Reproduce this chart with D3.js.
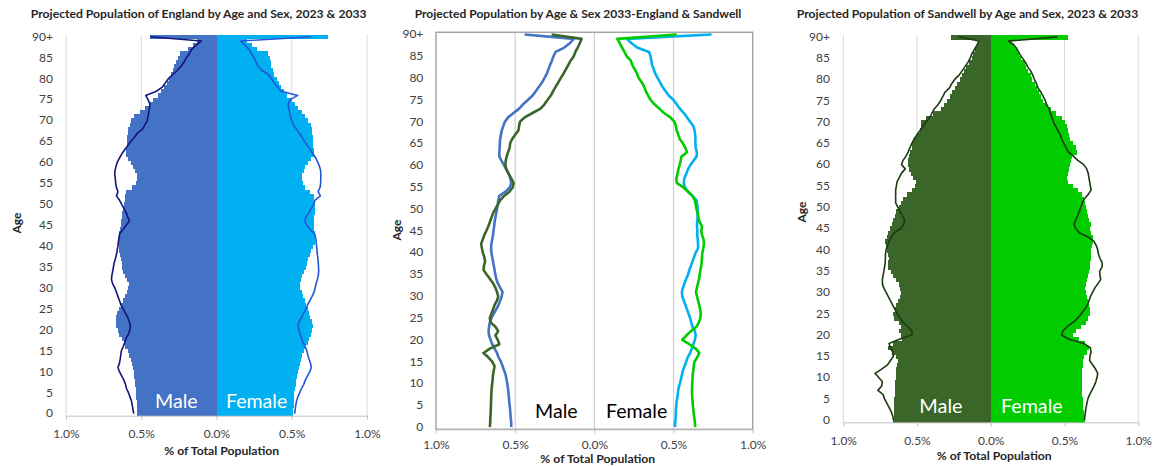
<!DOCTYPE html>
<html><head><meta charset="utf-8">
<script src="https://cdn.jsdelivr.net/npm/d3@7"></script>
<style>html,body{margin:0;padding:0;background:#fff;} svg{display:block;}</style>
</head><body>
<svg id="chart" width="1153" height="466"></svg>
<script>
// ---------- DATA ----------
const ages = d3.range(0, 91);                       // 0 .. 90 (90 = "90+")
const ageTicks = ages.filter(a => a % 5 === 0);
const ageTickLabel = a => (a === 90 ? "90+" : String(a));
const xTickValues = [-1, -0.5, 0, 0.5, 1];
const xTickLabel = v => Math.abs(v).toFixed(1) + "%";
const titles = [
  "Projected Population of England by Age and Sex, 2023 & 2033",
  "Projected Population by Age & Sex 2033-England & Sandwell",
  "Projected Population of Sandwell by Age and Sex, 2023 & 2033"
];
const axisTitleX = "% of Total Population";
const axisTitleY = "Age";
const sexLabels = ["Male", "Female"];

// England 2033 (% of total population), ages 0..90+
const engMale2033 = [0.525,0.525,0.528,0.53,0.532,0.535,0.538,0.54,0.543,0.546,
  0.55,0.555,0.56,0.57,0.58,0.59,0.605,0.615,0.63,0.645,
  0.655,0.665,0.668,0.665,0.66,0.65,0.635,0.62,0.605,0.595,
  0.585,0.58,0.595,0.61,0.62,0.625,0.63,0.635,0.64,0.645,
  0.65,0.652,0.65,0.645,0.64,0.637,0.633,0.63,0.625,0.62,
  0.615,0.61,0.607,0.6,0.56,0.533,0.525,0.53,0.54,0.555,
  0.57,0.585,0.6,0.6,0.598,0.597,0.595,0.59,0.585,0.575,
  0.565,0.545,0.51,0.475,0.45,0.42,0.39,0.37,0.35,0.33,
  0.315,0.3,0.29,0.28,0.268,0.258,0.245,0.19,0.155,0.13,0.44];
const engFemale2033 = [0.51,0.51,0.513,0.515,0.515,0.518,0.52,0.525,0.528,0.532,
  0.54,0.547,0.553,0.56,0.57,0.58,0.59,0.605,0.615,0.625,
  0.635,0.64,0.635,0.62,0.612,0.605,0.595,0.585,0.575,0.565,
  0.555,0.553,0.56,0.57,0.58,0.592,0.6,0.61,0.62,0.63,
  0.64,0.655,0.655,0.653,0.65,0.65,0.648,0.65,0.652,0.653,
  0.652,0.65,0.645,0.62,0.59,0.572,0.565,0.568,0.58,0.59,
  0.605,0.625,0.645,0.648,0.64,0.638,0.638,0.637,0.633,0.625,
  0.605,0.585,0.565,0.54,0.52,0.5,0.47,0.45,0.43,0.415,
  0.4,0.385,0.375,0.365,0.36,0.355,0.345,0.27,0.235,0.205,0.74];
// Sandwell 2033
const sandMale2033 = [0.66,0.658,0.657,0.655,0.654,0.653,0.652,0.651,0.65,0.648,
  0.645,0.642,0.64,0.635,0.63,0.645,0.67,0.7,0.66,0.6,
  0.61,0.625,0.607,0.625,0.655,0.66,0.65,0.64,0.63,0.615,
  0.607,0.615,0.625,0.64,0.66,0.68,0.7,0.697,0.69,0.695,
  0.704,0.71,0.715,0.705,0.695,0.682,0.67,0.66,0.65,0.64,
  0.625,0.61,0.595,0.57,0.535,0.515,0.51,0.525,0.54,0.555,
  0.562,0.56,0.554,0.545,0.535,0.532,0.52,0.5,0.48,0.475,
  0.47,0.44,0.39,0.34,0.315,0.296,0.275,0.26,0.245,0.228,
  0.212,0.195,0.18,0.165,0.15,0.13,0.12,0.105,0.092,0.08,0.27];
const sandFemale2033 = [0.637,0.635,0.632,0.628,0.625,0.622,0.62,0.618,0.617,0.617,
  0.618,0.62,0.621,0.625,0.628,0.632,0.65,0.663,0.64,0.6,
  0.555,0.58,0.61,0.645,0.66,0.67,0.672,0.668,0.662,0.655,
  0.648,0.642,0.648,0.655,0.662,0.665,0.67,0.675,0.678,0.68,
  0.682,0.688,0.692,0.69,0.68,0.675,0.68,0.665,0.658,0.652,
  0.645,0.64,0.635,0.62,0.59,0.56,0.52,0.518,0.525,0.53,
  0.538,0.545,0.55,0.585,0.575,0.56,0.54,0.53,0.52,0.515,
  0.505,0.48,0.44,0.41,0.38,0.355,0.34,0.325,0.315,0.3,
  0.28,0.27,0.255,0.24,0.23,0.205,0.19,0.175,0.16,0.145,0.52];
// England 2023
const engMale2023 = [0.55,0.555,0.56,0.565,0.575,0.585,0.598,0.605,0.615,0.63,
  0.645,0.655,0.645,0.64,0.636,0.632,0.62,0.61,0.6,0.585,
  0.575,0.572,0.58,0.59,0.605,0.62,0.635,0.645,0.655,0.665,
  0.675,0.69,0.698,0.695,0.69,0.685,0.68,0.672,0.665,0.66,
  0.655,0.652,0.648,0.643,0.62,0.6,0.578,0.59,0.6,0.615,
  0.63,0.645,0.665,0.655,0.665,0.67,0.672,0.676,0.675,0.668,
  0.66,0.645,0.63,0.61,0.59,0.57,0.545,0.525,0.49,0.475,
  0.46,0.455,0.45,0.445,0.443,0.455,0.47,0.4,0.36,0.34,
  0.32,0.29,0.26,0.235,0.215,0.2,0.18,0.165,0.135,0.1,0.44];
const engFemale2023 = [0.52,0.523,0.527,0.532,0.54,0.553,0.565,0.58,0.59,0.605,
  0.62,0.63,0.625,0.615,0.607,0.6,0.59,0.575,0.565,0.555,
  0.548,0.542,0.55,0.565,0.58,0.595,0.605,0.62,0.635,0.648,
  0.655,0.662,0.67,0.676,0.679,0.678,0.676,0.674,0.67,0.668,
  0.665,0.662,0.658,0.652,0.62,0.6,0.586,0.595,0.615,0.63,
  0.645,0.655,0.69,0.675,0.688,0.692,0.693,0.693,0.692,0.685,
  0.673,0.66,0.642,0.625,0.605,0.585,0.568,0.55,0.53,0.51,
  0.5,0.49,0.485,0.48,0.476,0.49,0.54,0.43,0.405,0.385,
  0.365,0.345,0.3,0.275,0.262,0.25,0.232,0.215,0.19,0.16,0.63];
// Sandwell 2023
const sandMale2023 = [0.66,0.665,0.675,0.69,0.705,0.72,0.73,0.765,0.74,0.735,
  0.76,0.785,0.74,0.7,0.68,0.66,0.665,0.68,0.69,0.62,
  0.535,0.535,0.565,0.595,0.615,0.635,0.65,0.665,0.68,0.695,
  0.71,0.725,0.735,0.735,0.73,0.725,0.72,0.716,0.715,0.714,
  0.71,0.7,0.69,0.675,0.655,0.61,0.59,0.585,0.6,0.615,
  0.63,0.645,0.645,0.645,0.645,0.64,0.635,0.62,0.605,0.58,
  0.605,0.595,0.575,0.56,0.548,0.535,0.52,0.5,0.48,0.46,
  0.44,0.415,0.4,0.385,0.36,0.34,0.325,0.31,0.28,0.265,
  0.245,0.215,0.195,0.175,0.155,0.14,0.128,0.112,0.095,0.08,0.22];
const sandFemale2023 = [0.635,0.638,0.642,0.646,0.652,0.658,0.67,0.685,0.7,0.712,
  0.72,0.725,0.71,0.69,0.67,0.672,0.68,0.675,0.63,0.53,
  0.48,0.49,0.52,0.56,0.59,0.613,0.635,0.655,0.665,0.675,
  0.69,0.705,0.725,0.745,0.74,0.738,0.755,0.755,0.74,0.73,
  0.725,0.715,0.7,0.66,0.6,0.575,0.565,0.575,0.588,0.6,
  0.61,0.62,0.635,0.66,0.68,0.675,0.67,0.665,0.66,0.65,
  0.63,0.59,0.56,0.525,0.51,0.495,0.48,0.47,0.455,0.44,
  0.425,0.415,0.405,0.395,0.38,0.37,0.355,0.34,0.32,0.31,
  0.295,0.285,0.27,0.25,0.235,0.215,0.195,0.18,0.16,0.12,0.45];

// ---------- DRAWING ----------
const FONT = "Lato, 'Open Sans', 'DejaVu Sans', sans-serif";
const svg = d3.select("#chart");

function fitWidth(sel, w) {
  const L = sel.node().getComputedTextLength();
  const fs = parseFloat(sel.attr("font-size"));
  if (L > 0) sel.attr("font-size", (fs * w / L).toFixed(2));
  return sel;
}

function commonAxes(g, cfg, x, y) {
  const ya = d3.axisLeft(y).tickValues(ageTicks).tickFormat(ageTickLabel).tickSize(0).tickPadding(cfg.yPad);
  const yg = g.append("g").attr("transform", `translate(${cfg.left},0)`).call(ya);
  yg.select(".domain").remove();
  yg.selectAll("text").attr("font-family", FONT).attr("font-size", 12).attr("fill", "#404040");
  const xa = d3.axisBottom(x).tickValues(xTickValues).tickFormat(xTickLabel).tickSize(4).tickSizeOuter(0).tickPadding(cfg.xPad);
  const xg = g.append("g").attr("transform", `translate(0,${cfg.bottom})`).call(xa);
  xg.select(".domain").attr("stroke", "#bfbfbf");
  xg.selectAll(".tick line").attr("stroke", "#bfbfbf");
  xg.selectAll("text").attr("font-family", FONT).attr("font-size", 12).attr("fill", "#404040");
  const t = g.append("text").text(cfg.title).attr("x", cfg.titleX).attr("y", 18.3)
    .attr("text-anchor", "middle").attr("font-family", FONT).attr("font-weight", "bold")
    .attr("font-size", 12).attr("fill", "#262626");
  fitWidth(t, cfg.titleW);
  const xt = g.append("text").text(axisTitleX).attr("x", cfg.xtX).attr("y", cfg.xtY)
    .attr("text-anchor", "middle").attr("font-family", FONT).attr("font-weight", "bold")
    .attr("font-size", 12).attr("fill", "#262626");
  fitWidth(xt, 115);
  g.append("text").text(axisTitleY)
    .attr("transform", `translate(${cfg.ytX},${cfg.ytY}) rotate(-90)`)
    .attr("text-anchor", "middle").attr("font-family", FONT).attr("font-weight", "bold")
    .attr("font-size", 12).attr("fill", "#262626");
}

function sexText(g, cfg, color) {
  const m = g.append("text").text(sexLabels[0]).attr("x", cfg.maleX).attr("y", cfg.sexY)
    .attr("font-family", FONT).attr("font-size", 20).attr("fill", color);
  fitWidth(m, cfg.maleW);
  const f = g.append("text").text(sexLabels[1]).attr("x", cfg.femaleX).attr("y", cfg.sexY)
    .attr("font-family", FONT).attr("font-size", 20).attr("fill", color);
  fitWidth(f, cfg.femaleW);
}

function pyramid(cfg) {
  const g = svg.append("g");
  const x = d3.scaleLinear().domain([-1, 1]).range([cfg.left, cfg.right]);
  const y = d3.scaleBand().domain(ages.slice().reverse()).range([cfg.top, cfg.bottom]).padding(0);
  const bw = y.bandwidth();
  g.selectAll("line.grid").data(xTickValues).join("line").attr("class", "grid")
    .attr("x1", d => x(d)).attr("x2", d => x(d)).attr("y1", cfg.top).attr("y2", cfg.bottom)
    .attr("stroke", "#d9d9d9").attr("stroke-width", 1);
  g.selectAll("rect.m").data(ages).join("rect").attr("class", "m")
    .attr("x", a => x(-cfg.barM[a])).attr("width", a => x(0) - x(-cfg.barM[a]))
    .attr("y", a => y(a)).attr("height", bw + 0.6).attr("fill", cfg.colM)
    .attr("shape-rendering", "crispEdges");
  g.selectAll("rect.f").data(ages).join("rect").attr("class", "f")
    .attr("x", x(0)).attr("width", a => x(cfg.barF[a]) - x(0))
    .attr("y", a => y(a)).attr("height", bw + 0.6).attr("fill", cfg.colF)
    .attr("shape-rendering", "crispEdges");
  commonAxes(g, cfg, x, y);
  const lm = d3.line().x(a => x(-cfg.lineM[a])).y(a => y(a) + bw / 2);
  const lf = d3.line().x(a => x(cfg.lineF[a])).y(a => y(a) + bw / 2);
  g.append("path").attr("d", lm(ages)).attr("fill", "none").attr("stroke", cfg.lineColM).attr("stroke-width", 1.6).attr("stroke-linejoin", "round");
  g.append("path").attr("d", lf(ages)).attr("fill", "none").attr("stroke", cfg.lineColF).attr("stroke-width", 1.6).attr("stroke-linejoin", "round");
  sexText(g, cfg, "#ffffff");
}

function comparison(cfg) {
  const g = svg.append("g");
  const x = d3.scaleLinear().domain([-1, 1]).range([cfg.left, cfg.right]);
  const y = d3.scaleBand().domain(ages.slice().reverse()).range([cfg.top, cfg.bottom]).padding(0);
  const bw = y.bandwidth();
  g.selectAll("line.grid").data([-0.5, 0, 0.5]).join("line").attr("class", "grid")
    .attr("x1", d => x(d)).attr("x2", d => x(d)).attr("y1", cfg.top).attr("y2", cfg.bottom)
    .attr("stroke", "#d0d0d0").attr("stroke-width", 1.2);
  g.append("rect").attr("x", cfg.left).attr("y", cfg.top).attr("width", cfg.right - cfg.left)
    .attr("height", cfg.bottom - cfg.top).attr("fill", "none").attr("stroke", "#a6a6a6").attr("stroke-width", 1.5);
  commonAxes(g, cfg, x, y);
  const series = [
    {v: engMale2033, sign: -1, c: "#4472c4"},
    {v: engFemale2033, sign: 1, c: "#00b0f0"},
    {v: sandMale2033, sign: -1, c: "#3a6629"},
    {v: sandFemale2033, sign: 1, c: "#00cc00"}
  ];
  series.forEach(s => {
    const ln = d3.line().x(a => x(s.sign * s.v[a])).y(a => y(a) + bw / 2);
    g.append("path").attr("d", ln(ages)).attr("fill", "none").attr("stroke", s.c)
      .attr("stroke-width", 2.6).attr("stroke-linejoin", "round");
  });
  sexText(g, cfg, "#000000");
}

pyramid({
  left: 66, right: 367, top: 34.7, bottom: 415.7, yPad: 13, xPad: 10,
  barM: engMale2033, barF: engFemale2033, lineM: engMale2023, lineF: engFemale2023,
  colM: "#4472c4", colF: "#00b0f0", lineColM: "#14147a", lineColF: "#2356d8",
  title: titles[0], titleX: 198.7, titleW: 336,
  xtX: 221.7, xtY: 455.3, ytX: 21, ytY: 223,
  maleX: 155, maleW: 42.7, femaleX: 226, femaleW: 61.3, sexY: 408.3
});
comparison({
  left: 436, right: 752.7, top: 32.3, bottom: 429.3, yPad: 12.7, xPad: 7.5,
  title: titles[1], titleX: 578, titleW: 327,
  xtX: 597.8, xtY: 463, ytX: 401, ytY: 230,
  maleX: 535, maleW: 42.7, femaleX: 606, femaleW: 61.3, sexY: 418.3
});
pyramid({
  left: 843.3, right: 1138.3, top: 34.7, bottom: 422.3, yPad: 13.3, xPad: 10,
  barM: sandMale2033, barF: sandFemale2033, lineM: sandMale2023, lineF: sandFemale2023,
  colM: "#3a6629", colF: "#00cc00", lineColM: "#1c3a12", lineColF: "#1c3a12",
  title: titles[2], titleX: 967.5, titleW: 341.6,
  xtX: 994.2, xtY: 460, ytX: 806, ytY: 212,
  maleX: 919.3, maleW: 43.4, femaleX: 1001, femaleW: 61.7, sexY: 412.7
});
</script>
</body></html>
